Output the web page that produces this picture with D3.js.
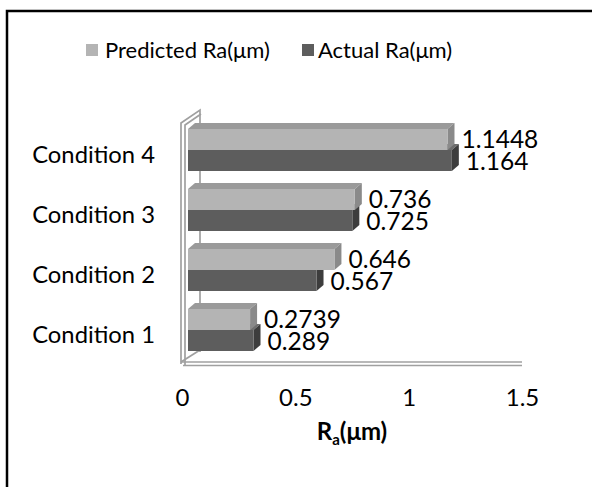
<!DOCTYPE html>
<html>
<head>
<meta charset="utf-8">
<script src="https://cdn.jsdelivr.net/npm/d3@7"></script>
<style>
  html, body { margin: 0; padding: 0; background: #fff; }
  svg { display: block; }
  text { font-family: Lato, "Open Sans", sans-serif; fill: #000; }
</style>
</head>
<body>
<svg id="chart" width="592" height="487"></svg>
<script>
// Surface roughness per machining condition
const categories = ["Condition 1", "Condition 2", "Condition 3", "Condition 4"];
const predicted = [0.2739, 0.646, 0.736, 1.1448];
const actual = [0.289, 0.567, 0.725, 1.164];
const seriesNames = ["Predicted Ra(\u03bcm)", "Actual Ra(\u03bcm)"];
const tickValues = [0, 0.5, 1, 1.5];

const svg = d3.select("#chart");

// outer frame
svg.append("path")
  .attr("d", "M7,487 V11 H592")
  .attr("fill", "none").attr("stroke", "#000").attr("stroke-width", 2.5);

// scales: front edge of the floor and category bands
const x = d3.scaleLinear().domain([0, 1.5]).range([182, 522]);
const y = d3.scaleBand().domain(categories.slice().reverse()).range([120, 360]);

const barOff = { dx: 6, dy: -4 };       // bar position inside the depth
const barDepth = { dx: 7, dy: -6 };     // visible thickness of each bar
const barH = 21;

const wallColor = "#a0a0a0";
// side wall (slab)
const wall = svg.append("g").attr("fill", "none").attr("stroke", wallColor).attr("stroke-width", 1.7);
wall.append("path").attr("d", `M181,364 V123 L200,110 V352`);
wall.append("path").attr("d", `M185,366 V125 L201,114`);
wall.append("path").attr("d", `M181,362 L200,350`);
// floor front edge (slab)
wall.append("path").attr("d", `M181,362 H${x(1.5)}`);
wall.append("path").attr("d", `M183,365.5 H${x(1.5)}`);

const colors = {
  pred: { front: "#b4b4b4", top: "#9a9a9a", side: "#8a8a8a" },
  act:  { front: "#5d5d5d", top: "#6e6e6e", side: "#3d3d3d" }
};

function bar3d(g, v, yTop, c) {
  const x0 = x(0) + barOff.dx, x1 = x(v) + barOff.dx;
  const y0 = yTop, y1 = yTop + barH;
  const dx = barDepth.dx, dy = barDepth.dy;
  g.append("path")
    .attr("d", `M${x0},${y0} L${x0 + dx},${y0 + dy} L${x1 + dx},${y0 + dy} L${x1},${y0} Z`)
    .attr("fill", c.top);
  g.append("path")
    .attr("d", `M${x1},${y0} L${x1 + dx},${y0 + dy} L${x1 + dx},${y1 + dy} L${x1},${y1} Z`)
    .attr("fill", c.side);
  g.append("rect")
    .attr("x", x0).attr("y", y0).attr("width", x1 - x0).attr("height", barH)
    .attr("fill", c.front);
}

const bars = svg.append("g");
categories.forEach((cat, i) => {
  const mid = y(cat) + y.bandwidth() / 2;
  const g = bars.append("g");
  // lower bar drawn first so the upper one overlaps its top face
  bar3d(g, actual[i], mid, colors.act);
  bar3d(g, predicted[i], mid - barH, colors.pred);
});

// value labels
const labels = svg.append("g").attr("font-size", 24.5);
categories.forEach((cat, i) => {
  const mid = y(cat) + y.bandwidth() / 2;
  labels.append("text")
    .attr("x", x(predicted[i]) + barOff.dx + 14).attr("y", mid - barH / 2)
    .attr("dy", "0.35em").text(predicted[i]);
  labels.append("text")
    .attr("x", x(actual[i]) + barOff.dx + 14).attr("y", mid + barH / 2 + 0.5)
    .attr("dy", "0.35em").text(actual[i]);
});

// category axis labels
const yAxis = svg.append("g").attr("font-size", 23.8).attr("text-anchor", "end");
categories.forEach(cat => {
  yAxis.append("text")
    .attr("x", 155).attr("y", y(cat) + y.bandwidth() / 2 + 5)
    .attr("dy", "0.35em").text(cat);
});

// value axis
const xAxis = svg.append("g").attr("transform", "translate(0,386)")
  .call(d3.axisBottom(x).tickValues(tickValues).tickSize(0).tickFormat(d3.format("")));
xAxis.select(".domain").remove();
xAxis.selectAll("text").attr("font-size", 24).attr("font-family", "Lato, sans-serif").attr("fill", "#000");

// axis title
const title = svg.append("text").attr("x", 352).attr("y", 440)
  .attr("text-anchor", "middle").attr("font-size", 24).attr("font-weight", "bold");
title.append("tspan").text("R");
title.append("tspan").attr("font-size", 15).attr("dy", 5).text("a");
title.append("tspan").attr("dy", -5).text("(\u03bcm)");

// legend
const legend = svg.append("g").attr("font-size", 22);
const legendItems = [
  { name: seriesNames[0], color: colors.pred.front, sx: 86, tx: 105 },
  { name: seriesNames[1], color: colors.act.front, sx: 302, tx: 318 }
];
legendItems.forEach(d => {
  legend.append("rect").attr("x", d.sx).attr("y", 44).attr("width", 12).attr("height", 12).attr("fill", d.color);
  legend.append("text").attr("x", d.tx).attr("y", 50).attr("dy", "0.35em").text(d.name);
});
</script>
</body>
</html>
